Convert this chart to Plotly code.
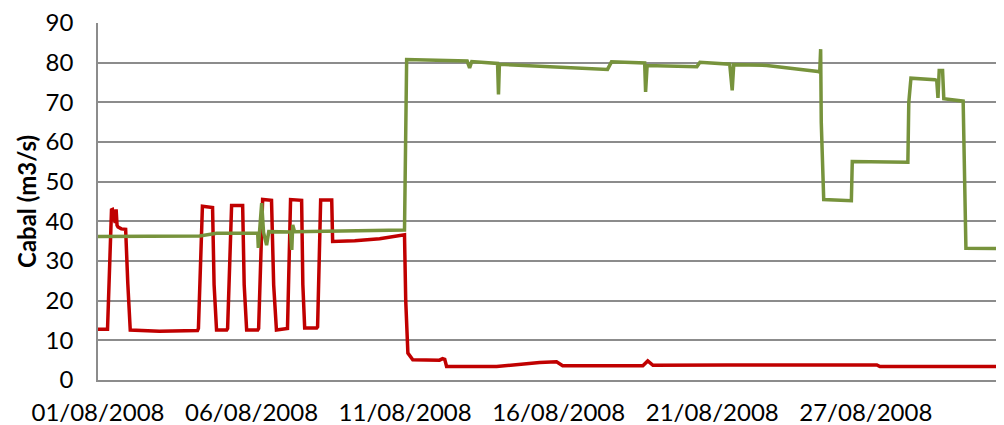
import plotly.graph_objects as go

# x = position in days along the (category) time axis, starting at 01/08/2008
tick_pos = [0, 5, 10, 15, 20, 25]
tick_labels = ["01/08/2008", "06/08/2008", "11/08/2008",
               "16/08/2008", "21/08/2008", "27/08/2008"]

# red series
t_red = [0.00, 0.31, 0.44, 0.47, 0.56, 0.59, 0.62, 0.65, 0.76, 0.90, 0.97, 1.05,
         2.00, 3.24, 3.27, 3.40, 3.73, 3.78, 3.86,
         4.19, 4.22, 4.35, 4.71, 4.76, 4.84,
         5.20, 5.23, 5.36, 5.65, 5.72, 5.81,
         6.14, 6.17, 6.27, 6.63, 6.67, 6.73,
         7.12, 7.15, 7.25, 7.61, 7.64,
         8.36, 9.17, 9.98, 10.02, 10.09, 10.25,
         11.12, 11.22, 11.29, 11.35, 12.98, 14.38, 14.93, 15.13,
         17.74, 17.90, 18.07, 20.5, 23.0, 25.36, 25.46, 29.6]
q_red = [12.8, 12.8, 42.9, 43.0, 39.6, 43.0, 39.0, 38.6, 38.1, 38.0, 24.4, 12.6,
         12.3, 12.5, 13.0, 43.8, 43.5, 24.0, 12.6,
         12.6, 13.0, 44.0, 44.0, 24.0, 12.6,
         12.6, 13.0, 45.5, 45.3, 24.0, 12.6,
         12.8, 13.0, 45.5, 45.3, 24.0, 13.1,
         13.1, 13.4, 45.4, 45.4, 34.9,
         35.1, 35.6, 36.6, 20.0, 6.8, 5.1,
         5.0, 5.4, 5.2, 3.4, 3.4, 4.4, 4.6, 3.6,
         3.6, 4.8, 3.7, 3.8, 3.7, 3.8, 3.4, 3.4]

# green series
t_green = [0.00, 3.31, 3.86, 5.20, 5.22, 5.33, 5.39, 5.49, 5.56, 6.27, 6.31, 6.34, 6.40,
           9.98, 10.05, 12.02, 12.10, 12.17, 13.01, 13.04, 13.07, 16.59, 16.72,
           17.80, 17.83, 17.88, 19.50, 19.60, 20.57, 20.65, 20.70, 21.78,
           23.44, 23.50, 23.53, 23.55, 23.63, 24.53, 24.56, 26.37, 26.40, 26.47,
           27.25, 27.31, 27.35, 27.39, 27.50, 27.54, 28.17, 28.26, 29.6]
q_green = [36.2, 36.3, 37.0, 37.0, 33.3, 44.6, 37.2, 34.0, 37.4, 37.3, 32.8, 39.1, 37.4,
           37.8, 80.8, 80.4, 78.7, 80.3, 79.8, 72.0, 79.6, 78.3, 80.2,
           79.9, 72.6, 79.3, 79.0, 80.1, 79.6, 73.0, 79.5, 79.3,
           77.8, 77.6, 83.4, 65.0, 45.5, 45.2, 55.1, 54.9, 70.0, 76.1,
           75.7, 75.5, 71.1, 78.0, 78.0, 70.9, 70.3, 33.2, 33.1]

FONT = "Lato"

fig = go.Figure()
fig.add_trace(go.Scatter(x=t_red, y=q_red, mode="lines",
                         line=dict(color="#C00000", width=3.5), showlegend=False))
fig.add_trace(go.Scatter(x=t_green, y=q_green, mode="lines",
                         line=dict(color="#77933C", width=3.5), showlegend=False))

# the page body adds an 8px margin, so the figure's own margins compensate
fig.update_layout(
    width=1004, height=425,
    margin=dict(l=90, r=8, t=15, b=53),
    paper_bgcolor="white", plot_bgcolor="white",
    font=dict(family=FONT, size=24, color="black"),
    xaxis=dict(
        range=[0, 29.5], automargin=False,
        tickvals=tick_pos, ticktext=tick_labels,
        showgrid=False, zeroline=False,
        showline=True, linecolor="#8c8c8c", linewidth=1.5,
        ticks="", ticklabelstandoff=10, ticklabeloverflow="allow",
    ),
    yaxis=dict(
        range=[0, 90], dtick=10, automargin=False,
        showgrid=True, gridcolor="#8c8c8c", gridwidth=1.5,
        zeroline=False,
        showline=True, linecolor="#8c8c8c", linewidth=1.5,
        ticks="", ticklabelstandoff=18, ticklabeloverflow="allow",
        title=dict(text="<b>Cabal (m3/s)</b>", standoff=2,
                   font=dict(family=FONT, size=24)),
    ),
)

fig.write_html("out.html")
